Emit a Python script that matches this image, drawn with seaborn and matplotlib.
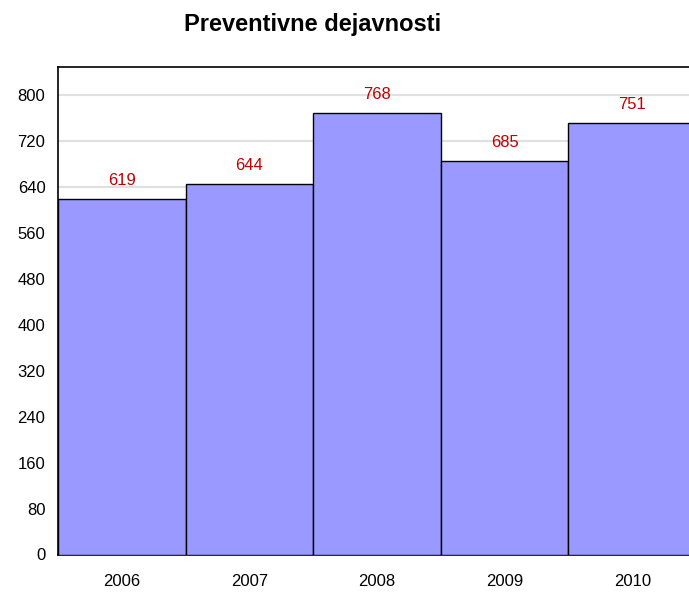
import matplotlib
matplotlib.use("Agg")
import matplotlib.pyplot as plt
import seaborn as sns
import pandas as pd

years = ["2006", "2007", "2008", "2009", "2010"]
values = [619, 644, 768, 685, 751]
yticks = [0, 80, 160, 240, 320, 400, 480, 560, 640, 720, 800]
title = "Preventivne dejavnosti"

sns.set_style("white")
plt.rcParams['font.family'] = ['Liberation Sans', 'DejaVu Sans']
plt.rcParams['text.color'] = 'black'
plt.rcParams['xtick.color'] = 'black'
plt.rcParams['ytick.color'] = 'black'

df = pd.DataFrame({"year": years, "value": values})

fig = plt.figure(figsize=(6.89, 5.96), dpi=100)
ax = fig.add_axes([58/689, 41.5/596, 638/689, 487.5/596])

sns.barplot(data=df, x="year", y="value", ax=ax, color="#9999ff",
            saturation=1, width=1.0, edgecolor="black", linewidth=1.0, zorder=3)

ax.set_ylim(0, 848)
ax.set_xlim(-0.5, 4.5)
ax.set_yticks(yticks)
ax.set_yticklabels([str(t) for t in yticks], fontsize=12)
ax.tick_params(axis="y", direction="out", length=6, width=1, color="black", pad=3, labelcolor="black")
ax.tick_params(axis="x", length=0, pad=14, labelsize=12, labelcolor="black")
ax.yaxis.grid(True, color="#e0e0e0", linewidth=1.5, zorder=0)
ax.set_axisbelow(True)
ax.set_xlabel("")
ax.set_ylabel("")
for s in ["left", "top", "bottom"]:
    ax.spines[s].set_visible(True)
    ax.spines[s].set_color("black")
    ax.spines[s].set_linewidth(1.2)
ax.spines["right"].set_visible(False)

for i, v in enumerate(values):
    ax.annotate(str(v), (i, v), xytext=(0, 8), textcoords="offset points",
                ha="center", va="bottom", color="#c00000", fontsize=12)

fig.text(313/689, 1 - 25/596, title, ha="center", va="center",
         fontsize=17, fontweight="bold", color="black")

fig.savefig("out.png", dpi=100)
